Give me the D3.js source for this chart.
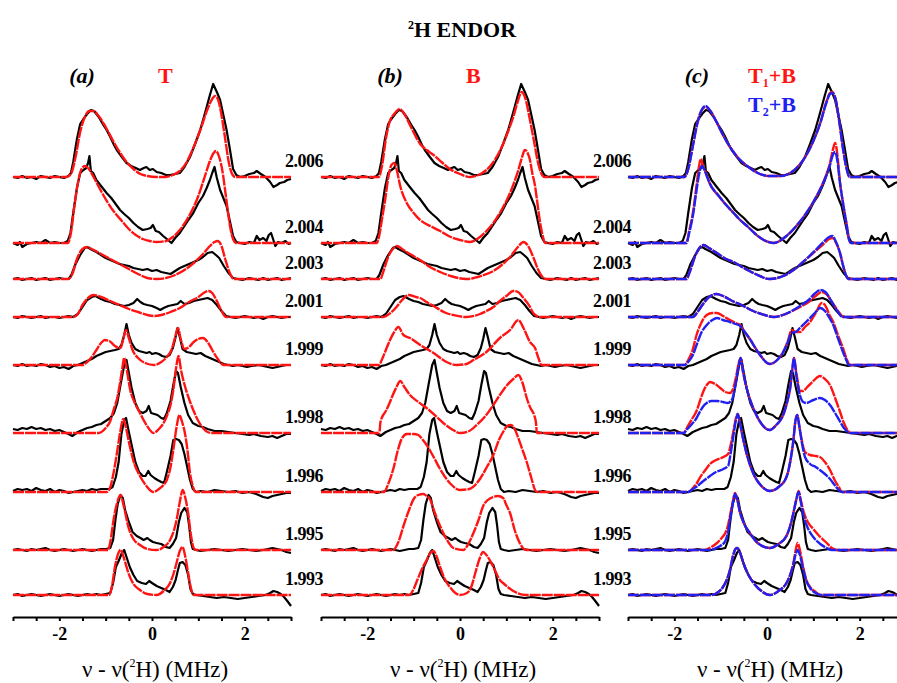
<!DOCTYPE html>
<html><head><meta charset="utf-8">
<script src="https://cdn.jsdelivr.net/npm/d3@7/dist/d3.min.js"></script>
<style>body{margin:0;background:#fff}svg{display:block}</style>
</head><body><svg id="chart" width="897" height="683"></svg>
<script>
// ---------- data ----------
const gValues = ["2.006","2.004","2.003","2.001","1.999","1.998","1.996","1.995","1.993"];
const stackOffsets = [440,374,338,300,252,184,125,67,22];
const xTickValues = [-3,-2.5,-2,-1.5,-1,-0.5,0,0.5,1,1.5,2,2.5,3];
const xTickLabels = {"-2":"-2","0":"0","2":"2"};
const panelNames = ["(a)","(b)","(c)"];

// experimental spectra (MHz, intensity)
const exp2006 = [[-3,0],[-2.9,-1],[-2.8,1],[-2.7,-1],[-2.6,0],[-2.5,-2],[-2.4,1],[-2.3,0],[-2.2,-1],[-2.1,1],[-2,0],[-1.9,-1],[-1.8,1],[-1.75,4],[-1.7,15],[-1.62,38],[-1.55,53],[-1.48,58],[-1.4,63],[-1.32,67],[-1.25,66],[-1.15,60],[-1.05,52],[-0.98,47],[-0.9,40],[-0.82,32],[-0.76,27],[-0.65,20],[-0.55,14],[-0.45,11],[-0.35,9],[-0.26,7],[-0.18,9],[-0.12,10],[-0.05,7],[0.02,8],[0.1,5],[0.2,4],[0.3,2],[0.39,2],[0.5,3],[0.6,4],[0.7,10],[0.82,20],[0.93,33],[1.04,47],[1.12,60],[1.18,70],[1.25,82],[1.32,93],[1.4,85],[1.47,77],[1.54,62],[1.61,47],[1.68,28],[1.75,8],[1.82,2],[1.9,0],[2,1],[2.1,3],[2.2,4],[2.26,6],[2.35,3],[2.45,0],[2.55,-5],[2.62,-10],[2.7,-8],[2.76,-6],[2.85,-5],[2.92,-3],[3,-2]];
const exp2004 = [[-3,0],[-2.9,-2],[-2.85,1],[-2.8,-4],[-2.7,-1],[-2.6,0],[-2.5,1],[-2.4,0],[-2.3,3],[-2.2,0],[-2.1,1],[-2,0],[-1.9,0],[-1.82,2],[-1.76,10],[-1.7,30],[-1.62,55],[-1.55,70],[-1.48,73],[-1.42,75],[-1.38,80],[-1.35,87],[-1.32,72],[-1.27,70],[-1.2,63],[-1.1,57],[-0.98,50],[-0.88,45],[-0.8,40],[-0.69,33],[-0.6,29],[-0.5,25],[-0.4,20],[-0.3,16],[-0.2,13],[-0.1,14],[-0.03,15],[0.02,18],[0.08,12],[0.15,11],[0.24,7],[0.32,4],[0.42,0],[0.5,5],[0.6,10],[0.7,17],[0.8,24],[0.89,30],[1,40],[1.1,47],[1.18,55],[1.25,63],[1.3,70],[1.35,76],[1.4,65],[1.47,53],[1.54,45],[1.61,37],[1.68,22],[1.75,7],[1.82,1],[1.9,0],[2,-1],[2.1,1],[2.2,0],[2.26,7],[2.32,3],[2.4,5],[2.47,2],[2.52,8],[2.57,10],[2.62,3],[2.66,-3],[2.72,1],[2.8,0],[2.88,2],[2.95,-1],[3,0]];
const exp2003 = [[-3,0],[-2.9,1],[-2.8,-1],[-2.7,0],[-2.6,1],[-2.5,-1],[-2.4,0],[-2.3,1],[-2.2,-1],[-2.1,0],[-2,1],[-1.9,0],[-1.8,0],[-1.74,4],[-1.65,15],[-1.55,24],[-1.45,31],[-1.4,32],[-1.33,30],[-1.2,27],[-1.1,24],[-1,21],[-0.9,19],[-0.8,17],[-0.7,15],[-0.6,14],[-0.5,13],[-0.4,11],[-0.3,10],[-0.2,9],[-0.1,10],[0,8],[0.1,9],[0.2,7],[0.3,6],[0.4,5],[0.5,8],[0.6,11],[0.7,13],[0.8,15],[0.9,17],[1,19],[1.1,22],[1.2,26],[1.3,27],[1.38,24],[1.45,21],[1.55,13],[1.65,6],[1.75,1],[1.85,0],[1.95,-1],[2.1,1],[2.2,0],[2.3,-1],[2.4,1],[2.5,-1],[2.6,0],[2.7,1],[2.8,-1],[2.9,0],[3,1]];
const exp2001 = [[-3,0],[-2.9,-1],[-2.8,1],[-2.7,0],[-2.6,-1],[-2.5,0],[-2.4,1],[-2.3,-1],[-2.2,0],[-2.1,0],[-2,-1],[-1.9,0],[-1.8,1],[-1.7,0],[-1.6,3],[-1.5,10],[-1.4,17],[-1.3,20],[-1.22,21],[-1.1,18],[-1,16],[-0.9,15],[-0.8,13],[-0.7,12],[-0.6,11],[-0.5,12],[-0.4,14],[-0.32,18],[-0.25,15],[-0.18,13],[-0.1,12],[0,11],[0.1,9],[0.18,7],[0.25,9],[0.35,11],[0.45,12],[0.55,13],[0.62,16],[0.7,13],[0.8,14],[0.9,16],[1,17],[1.1,18],[1.2,19],[1.3,17],[1.4,12],[1.5,6],[1.6,1],[1.7,0],[1.8,-1],[1.9,0],[2,1],[2.1,0],[2.2,-1],[2.3,0],[2.4,-2],[2.5,0],[2.6,1],[2.7,0],[2.8,-1],[2.9,0],[3,0]];
const exp1999 = [[-3,0],[-2.9,-1],[-2.8,1],[-2.7,-1],[-2.6,0],[-2.5,-1],[-2.4,1],[-2.3,0],[-2.2,-2],[-2.1,-1],[-2,-3],[-1.9,-2],[-1.8,-4],[-1.7,-1],[-1.6,0],[-1.5,2],[-1.4,4],[-1.3,6],[-1.2,9],[-1.1,11],[-1,13],[-0.9,14],[-0.8,15],[-0.72,16],[-0.66,20],[-0.6,30],[-0.55,41],[-0.5,30],[-0.44,22],[-0.36,16],[-0.28,14],[-0.2,13],[-0.12,12],[-0.05,13],[0,11],[0.08,12],[0.15,11],[0.22,9],[0.3,8],[0.38,10],[0.45,17],[0.5,26],[0.55,37],[0.6,28],[0.66,16],[0.75,13],[0.85,12],[0.95,11],[1.05,12],[1.15,9],[1.25,7],[1.35,5],[1.45,3],[1.55,1],[1.65,0],[1.75,-1],[1.85,0],[1.95,-1],[2.05,-2],[2.15,-1],[2.3,0],[2.4,-1],[2.5,-2],[2.6,-3],[2.7,-2],[2.8,-1],[2.9,0],[3,0]];
const exp1998 = [[-3,4],[-2.9,3],[-2.8,5],[-2.7,4],[-2.6,6],[-2.5,4],[-2.4,5],[-2.3,3],[-2.2,4],[-2.1,2],[-2,3],[-1.9,1],[-1.8,-1],[-1.72,-3],[-1.6,1],[-1.5,3],[-1.4,5],[-1.3,6],[-1.2,8],[-1.1,9],[-1,12],[-0.9,15],[-0.82,20],[-0.75,30],[-0.68,48],[-0.6,68],[-0.55,73],[-0.5,60],[-0.44,45],[-0.36,30],[-0.28,22],[-0.2,20],[-0.12,22],[-0.07,27],[-0.02,20],[0.05,19],[0.12,18],[0.2,15],[0.26,14],[0.32,20],[0.4,32],[0.46,48],[0.52,62],[0.56,60],[0.62,46],[0.7,30],[0.78,18],[0.88,10],[1,7],[1.1,6],[1.2,4],[1.35,2],[1.5,2],[1.65,1],[1.8,0],[1.95,-1],[2.1,-2],[2.2,-1],[2.35,-3],[2.5,-4],[2.6,-3],[2.7,-5],[2.8,-3],[2.9,-1],[3,-1]];
const exp1996 = [[-3,1],[-2.9,3],[-2.8,2],[-2.7,3],[-2.6,1],[-2.5,4],[-2.4,2],[-2.3,1],[-2.2,3],[-2.1,0],[-2,2],[-1.9,1],[-1.8,-1],[-1.7,0],[-1.6,1],[-1.5,2],[-1.4,1],[-1.3,3],[-1.2,2],[-1.1,3],[-1,3],[-0.92,3],[-0.85,5],[-0.78,15],[-0.72,30],[-0.66,58],[-0.6,72],[-0.56,74],[-0.5,60],[-0.43,45],[-0.36,30],[-0.28,20],[-0.2,16],[-0.14,16],[-0.08,21],[-0.03,17],[0.05,14],[0.12,12],[0.2,10],[0.26,9],[0.32,20],[0.4,36],[0.46,52],[0.52,53],[0.58,52],[0.64,48],[0.7,38],[0.76,25],[0.82,12],[0.88,3],[0.95,0],[1.05,1],[1.2,0],[1.35,2],[1.5,1],[1.65,0],[1.8,1],[1.95,-1],[2.1,0],[2.25,-2],[2.4,-5],[2.5,-6],[2.6,-4],[2.7,-3],[2.8,-2],[2.9,-1],[3,-1]];
const exp1995 = [[-3,0],[-2.9,1],[-2.8,0],[-2.7,-1],[-2.6,1],[-2.5,0],[-2.4,1],[-2.3,2],[-2.2,0],[-2.1,-1],[-2,0],[-1.9,1],[-1.8,0],[-1.7,-1],[-1.6,0],[-1.5,1],[-1.4,0],[-1.3,-1],[-1.2,0],[-1.1,1],[-1,1],[-0.9,2],[-0.84,10],[-0.79,30],[-0.74,46],[-0.68,55],[-0.63,52],[-0.58,40],[-0.5,28],[-0.42,18],[-0.33,14],[-0.25,12],[-0.18,10],[-0.1,12],[-0.05,10],[0.02,8],[0.1,7],[0.2,6],[0.3,3],[0.38,2],[0.45,6],[0.52,12],[0.58,28],[0.63,37],[0.7,42],[0.76,38],[0.8,25],[0.84,8],[0.88,1],[0.95,0],[1.05,-1],[1.2,0],[1.35,1],[1.5,0],[1.65,-1],[1.8,0],[1.95,1],[2.1,0],[2.25,-1],[2.4,0],[2.5,1],[2.6,2],[2.7,1],[2.8,0],[2.9,-2],[3,-3]];
const exp1993 = [[-3,0],[-2.9,1],[-2.8,-1],[-2.7,0],[-2.6,1],[-2.5,0],[-2.4,-1],[-2.3,0],[-2.2,1],[-2.1,0],[-2,-1],[-1.9,0],[-1.8,1],[-1.7,0],[-1.6,-1],[-1.5,0],[-1.4,1],[-1.3,0],[-1.2,1],[-1.1,0],[-1,1],[-0.9,2],[-0.84,12],[-0.78,28],[-0.72,34],[-0.65,42],[-0.6,45],[-0.55,38],[-0.48,28],[-0.4,20],[-0.32,14],[-0.22,12],[-0.13,11],[-0.06,14],[0,12],[0.1,9],[0.2,7],[0.3,5],[0.38,3],[0.45,8],[0.51,15],[0.56,25],[0.6,32],[0.66,33],[0.72,30],[0.78,20],[0.83,6],[0.88,1],[0.95,0],[1.1,-1],[1.25,-2],[1.4,-3],[1.55,-2],[1.7,-3],[1.85,-4],[2,-3],[2.15,-2],[2.3,-1],[2.45,0],[2.55,2],[2.62,4],[2.7,3],[2.78,1],[2.85,-2],[2.92,-6],[3,-11]];

// simulation T (panel a, red)
const simT2006 = [[-3,0],[-1.85,0],[-1.75,3],[-1.65,20],[-1.55,45],[-1.45,60],[-1.35,66],[-1.27,66],[-1.15,61],[-1,50],[-0.85,37],[-0.7,25],[-0.55,15],[-0.4,8],[-0.25,3],[-0.1,1],[0.1,0],[0.3,0],[0.45,2],[0.6,6],[0.75,15],[0.9,30],[1.05,48],[1.2,68],[1.3,78],[1.36,81],[1.42,78],[1.5,62],[1.58,38],[1.66,14],[1.74,2],[1.8,0],[3,0]];
const simT2004 = [[-3,0],[-1.82,0],[-1.75,10],[-1.68,35],[-1.6,60],[-1.52,74],[-1.45,77],[-1.38,75],[-1.25,65],[-1.1,52],[-0.95,40],[-0.8,30],[-0.65,22],[-0.5,14],[-0.35,8],[-0.2,4],[-0.05,2],[0.1,1],[0.3,2],[0.45,6],[0.6,13],[0.8,27],[1,47],[1.15,68],[1.25,82],[1.33,90],[1.38,92],[1.45,86],[1.52,72],[1.6,45],[1.68,18],[1.75,4],[1.82,0],[3,0]];
const simT2003 = [[-3,0],[-1.8,0],[-1.72,5],[-1.62,20],[-1.5,30],[-1.4,32],[-1.3,30],[-1.1,25],[-0.9,20],[-0.7,15],[-0.5,10],[-0.3,5],[-0.1,1],[0.1,0],[0.3,1],[0.5,4],[0.7,9],[0.9,16],[1.1,25],[1.25,33],[1.35,37],[1.42,38],[1.5,33],[1.58,20],[1.68,6],[1.76,0],[3,0]];
const simT2001 = [[-3,0],[-1.7,0],[-1.6,3],[-1.5,12],[-1.38,19],[-1.26,22],[-1.1,20],[-0.9,16],[-0.7,12],[-0.5,8],[-0.3,5],[-0.1,2],[0.05,1],[0.2,2],[0.4,5],[0.6,9],[0.8,15],[1,20],[1.15,25],[1.22,26],[1.3,24],[1.4,16],[1.5,6],[1.6,0],[3,0]];
const simT1999 = [[-3,0],[-1.5,0],[-1.4,3],[-1.3,8],[-1.2,15],[-1.1,22],[-1.02,25],[-0.92,24],[-0.8,19],[-0.68,17],[-0.62,26],[-0.56,35],[-0.5,27],[-0.42,15],[-0.3,7],[-0.15,2],[0.05,0],[0.2,3],[0.32,8],[0.42,15],[0.5,28],[0.56,37],[0.62,26],[0.7,16],[0.8,18],[0.9,23],[1,26],[1.1,27],[1.2,23],[1.3,15],[1.42,6],[1.55,0],[3,0]];
const simT1998 = [[-3,0],[-1.15,0],[-1,5],[-0.9,12],[-0.83,23],[-0.75,35],[-0.69,50],[-0.64,65],[-0.6,75],[-0.55,65],[-0.47,43],[-0.37,30],[-0.26,20],[-0.12,8],[0.03,0],[0.15,4],[0.25,10],[0.32,17],[0.4,28],[0.46,43],[0.52,65],[0.57,77],[0.63,62],[0.71,47],[0.8,34],[0.89,23],[1,12],[1.1,5],[1.2,1],[1.3,0],[3,0]];
const simT1996 = [[-3,0],[-0.98,0],[-0.9,5],[-0.83,19],[-0.76,38],[-0.69,59],[-0.62,73],[-0.56,64],[-0.48,46],[-0.38,28],[-0.26,16],[-0.12,6],[0.03,0],[0.15,3],[0.25,7],[0.32,12],[0.4,25],[0.46,42],[0.53,65],[0.59,77],[0.65,70],[0.71,59],[0.77,40],[0.82,19],[0.88,6],[0.95,0],[3,0]];
const simT1995 = [[-3,0],[-0.95,0],[-0.9,8],[-0.83,30],[-0.76,46],[-0.68,55],[-0.6,42],[-0.51,23],[-0.4,11],[-0.26,5],[-0.1,1],[0.1,0],[0.25,3],[0.39,10],[0.47,19],[0.53,30],[0.6,48],[0.66,60],[0.72,52],[0.78,37],[0.84,15],[0.9,2],[0.95,0],[3,0]];
const simT1993 = [[-3,0],[-0.92,0],[-0.86,10],[-0.8,28],[-0.74,40],[-0.68,45],[-0.6,36],[-0.51,22],[-0.4,11],[-0.26,5],[-0.1,1],[0.1,0],[0.25,4],[0.39,12],[0.47,22],[0.53,32],[0.6,44],[0.66,48],[0.72,38],[0.78,22],[0.84,7],[0.9,0],[3,0]];

// simulation B (panel b, red)
const simB2006 = [[-3,0],[-1.75,0],[-1.68,12],[-1.6,38],[-1.52,55],[-1.42,63],[-1.3,68],[-1.2,63],[-1.08,52],[-0.95,40],[-0.86,33],[-0.72,27],[-0.57,22],[-0.4,15],[-0.22,8],[0,3],[0.22,0],[0.4,2],[0.57,7],[0.75,17],[0.93,33],[1.05,47],[1.15,60],[1.25,76],[1.33,85],[1.4,80],[1.51,57],[1.6,35],[1.69,13],[1.76,3],[1.82,0],[3,0]];
const simB2004 = [[-3,0],[-1.8,0],[-1.74,8],[-1.68,25],[-1.61,45],[-1.55,65],[-1.48,78],[-1.42,80],[-1.36,72],[-1.29,57],[-1.15,40],[-1,30],[-0.86,23],[-0.6,16],[-0.43,12],[-0.2,6],[0,3],[0.22,1],[0.4,5],[0.57,12],[0.72,20],[0.86,30],[1,42],[1.08,50],[1.18,62],[1.26,73],[1.34,86],[1.4,93],[1.46,90],[1.51,83],[1.56,70],[1.62,57],[1.67,40],[1.72,23],[1.78,8],[1.84,0],[3,0]];
const simB2003 = [[-3,0],[-1.72,0],[-1.65,8],[-1.55,22],[-1.45,30],[-1.36,33],[-1.25,30],[-1.08,25],[-0.86,19],[-0.65,12],[-0.43,7],[-0.2,3],[0.14,0],[0.45,3],[0.72,8],[0.9,14],[1.08,22],[1.25,32],[1.37,37],[1.47,33],[1.58,22],[1.68,10],[1.78,2],[1.85,0],[3,0]];
const simB2001 = [[-3,0],[-1.65,0],[-1.5,4],[-1.37,10],[-1.25,17],[-1.11,22],[-0.95,20],[-0.86,19],[-0.72,15],[-0.57,11],[-0.3,4],[-0.14,2],[0.14,0],[0.43,3],[0.57,6],[0.72,10],[0.86,16],[1,21],[1.15,26],[1.25,25],[1.37,19],[1.5,11],[1.58,4],[1.72,0],[3,0]];
const simB1999 = [[-3,0],[-1.75,0],[-1.68,6],[-1.6,15],[-1.51,25],[-1.42,33],[-1.33,38],[-1.22,30],[-1.08,27],[-0.86,20],[-0.57,12],[-0.29,3],[-0.07,0],[0.14,1],[0.29,5],[0.57,13],[0.86,27],[1.08,35],[1.26,45],[1.37,37],[1.51,23],[1.62,17],[1.7,6],[1.76,0],[3,0]];
const simB1998 = [[-3,0],[-1.74,0],[-1.72,10],[-1.68,16],[-1.6,22],[-1.52,30],[-1.45,38],[-1.37,46],[-1.29,52],[-1.2,46],[-1.08,38],[-0.9,31],[-0.72,25],[-0.5,16],[-0.36,10],[-0.15,3],[0,0],[0.2,2],[0.36,8],[0.55,17],[0.72,28],[0.86,38],[1,47],[1.15,54],[1.26,58],[1.35,50],[1.44,35],[1.52,25],[1.6,18],[1.64,10],[1.66,0],[3,0]];
const simB1996 = [[-3,0],[-1.64,0],[-1.55,8],[-1.44,23],[-1.34,42],[-1.26,53],[-1.15,58],[-1,58],[-0.9,57],[-0.8,52],[-0.72,47],[-0.57,35],[-0.43,23],[-0.2,8],[0,2],[0.2,3],[0.43,13],[0.58,25],[0.72,37],[0.84,52],[0.93,60],[1.02,66],[1.1,67],[1.18,63],[1.25,55],[1.35,42],[1.44,30],[1.54,14],[1.62,2],[1.66,0],[3,0]];
const simB1995 = [[-3,0],[-1.44,0],[-1.33,8],[-1.22,24],[-1.1,40],[-1,51],[-0.9,55],[-0.79,56],[-0.72,54],[-0.65,51],[-0.55,38],[-0.43,24],[-0.28,10],[-0.14,2],[0.07,0],[0.18,6],[0.29,17],[0.4,30],[0.5,44],[0.6,50],[0.72,53],[0.82,54],[0.93,52],[1,45],[1.08,37],[1.18,20],[1.29,7],[1.38,1],[1.44,0],[3,0]];
const simB1993 = [[-3,0],[-1.1,0],[-1,6],[-0.93,14],[-0.82,26],[-0.72,35],[-0.64,42],[-0.57,44],[-0.5,38],[-0.43,28],[-0.33,16],[-0.22,8],[-0.1,2],[0,0],[0.15,2],[0.25,9],[0.33,22],[0.42,36],[0.5,43],[0.57,40],[0.72,28],[0.86,15],[0.93,12],[1.15,4],[1.43,0],[3,0]];

// simulation T1+B (panel c, red)
const simT1B2006 = [[-3,0],[-1.78,0],[-1.7,8],[-1.6,32],[-1.5,55],[-1.42,66],[-1.33,70],[-1.22,66],[-1.1,56],[-0.95,42],[-0.8,30],[-0.6,18],[-0.4,10],[-0.2,4],[0.05,1],[0.3,1],[0.5,4],[0.7,12],[0.85,22],[1,36],[1.15,54],[1.28,75],[1.36,84],[1.41,85],[1.48,78],[1.56,55],[1.64,28],[1.72,8],[1.78,0],[3,0]];
const simT1B2004 = [[-3,0],[-1.74,0],[-1.68,12],[-1.59,33],[-1.52,58],[-1.47,76],[-1.43,84],[-1.38,77],[-1.3,68],[-1.24,60],[-1.04,47],[-0.88,38],[-0.72,30],[-0.58,23],[-0.43,17],[-0.25,9],[-0.07,3],[0.14,0],[0.42,7],[0.65,18],[0.85,30],[1,41],[1.14,53],[1.26,66],[1.36,80],[1.42,93],[1.47,100],[1.52,88],[1.57,63],[1.64,40],[1.72,18],[1.78,2],[1.82,0],[3,0]];
const simT1B2003 = [[-3,0],[-1.74,0],[-1.66,8],[-1.56,22],[-1.46,31],[-1.37,34],[-1.25,31],[-1.05,25],[-0.88,20],[-0.72,17],[-0.5,11],[-0.25,5],[0.06,0],[0.35,3],[0.6,10],[0.85,20],[1.05,28],[1.22,35],[1.34,40],[1.41,41],[1.48,37],[1.57,27],[1.65,12],[1.72,2],[1.76,0],[3,0]];
const simT1B2001 = [[-3,0],[-1.6,0],[-1.5,5],[-1.38,13],[-1.25,20],[-1.09,23],[-0.95,21],[-0.75,16],[-0.55,12],[-0.3,6],[-0.05,2],[0.14,0],[0.4,3],[0.71,10],[0.9,15],[1.05,21],[1.18,25],[1.28,23],[1.43,13],[1.55,5],[1.65,0],[3,0]];
const simT1B1999 = [[-3,0],[-1.78,0],[-1.7,5],[-1.6,16],[-1.52,30],[-1.42,42],[-1.3,50],[-1.18,52],[-1.08,52],[-0.95,49],[-0.8,45],[-0.68,42],[-0.58,40],[-0.48,33],[-0.37,26],[-0.25,17],[-0.15,10],[0.06,1],[0.22,5],[0.35,13],[0.45,24],[0.53,35],[0.62,33],[0.71,33],[0.82,38],[0.93,43],[1.05,52],[1.18,62],[1.25,60],[1.35,50],[1.43,43],[1.53,30],[1.64,17],[1.72,6],[1.79,0],[3,0]];
const simT1B1998 = [[-3,0],[-1.8,0],[-1.72,6],[-1.62,14],[-1.52,22],[-1.44,33],[-1.37,42],[-1.3,48],[-1.23,51],[-1.12,49],[-1.01,45],[-0.9,41],[-0.8,40],[-0.72,46],[-0.66,58],[-0.61,70],[-0.57,75],[-0.52,62],[-0.44,45],[-0.34,30],[-0.23,18],[-0.1,8],[0.06,3],[0.2,8],[0.35,18],[0.44,32],[0.5,45],[0.55,65],[0.58,75],[0.64,58],[0.71,42],[0.78,42],[0.85,45],[1,52],[1.14,57],[1.25,54],[1.36,48],[1.47,35],[1.57,22],[1.66,10],[1.75,2],[1.8,0],[3,0]];
const simT1B1996 = [[-3,0],[-1.7,0],[-1.6,4],[-1.5,10],[-1.44,15],[-1.33,22],[-1.23,28],[-1.1,32],[-0.94,35],[-0.84,38],[-0.78,48],[-0.72,62],[-0.67,74],[-0.63,78],[-0.58,68],[-0.51,52],[-0.42,35],[-0.29,18],[-0.12,6],[0.06,1],[0.25,5],[0.42,15],[0.5,30],[0.57,52],[0.61,70],[0.65,77],[0.7,65],[0.75,52],[0.82,40],[0.93,37],[1.05,36],[1.14,35],[1.25,30],[1.36,22],[1.46,12],[1.55,5],[1.62,0],[3,0]];
const simT1B1995 = [[-3,0],[-1.35,0],[-1.2,3],[-1.08,7],[-0.98,12],[-0.9,17],[-0.84,25],[-0.8,34],[-0.74,48],[-0.69,57],[-0.64,50],[-0.58,37],[-0.48,25],[-0.37,17],[-0.2,7],[0.06,2],[0.25,6],[0.42,14],[0.5,24],[0.57,37],[0.63,50],[0.68,59],[0.73,50],[0.78,40],[0.88,28],[1,21],[1.15,13],[1.29,7],[1.4,2],[1.5,0],[3,0]];
const simT1B1993 = [[-3,0],[-1.2,0],[-1.05,3],[-0.95,8],[-0.87,15],[-0.8,25],[-0.74,38],[-0.68,46],[-0.64,47],[-0.58,42],[-0.51,32],[-0.4,20],[-0.29,12],[-0.12,4],[0.06,0],[0.25,4],[0.42,12],[0.5,20],[0.57,32],[0.62,45],[0.66,52],[0.71,45],[0.78,28],[0.85,15],[0.93,8],[1.05,3],[1.15,0],[3,0]];

// simulation T2+B (panel c, blue)
const simT2B2006 = [[-3,0],[-1.78,0],[-1.7,8],[-1.6,31],[-1.5,54],[-1.42,66],[-1.33,71],[-1.22,66],[-1.1,56],[-0.95,42],[-0.8,30],[-0.6,18],[-0.4,10],[-0.2,4],[0.05,1],[0.3,1],[0.5,4],[0.7,12],[0.85,22],[1,36],[1.15,54],[1.28,74],[1.36,83],[1.41,84],[1.48,78],[1.56,56],[1.64,29],[1.72,8],[1.78,0],[3,0]];
const simT2B2004 = [[-3,0],[-1.74,0],[-1.68,10],[-1.59,30],[-1.52,53],[-1.46,70],[-1.41,77],[-1.36,74],[-1.3,67],[-1.24,60],[-1.04,47],[-0.88,38],[-0.72,30],[-0.58,23],[-0.43,17],[-0.25,9],[-0.07,3],[0.14,0],[0.42,7],[0.65,18],[0.85,30],[1,41],[1.14,53],[1.26,65],[1.36,78],[1.42,88],[1.47,91],[1.52,82],[1.57,62],[1.64,40],[1.72,18],[1.78,2],[1.82,0],[3,0]];
const simT2B2003 = [[-3,0],[-1.74,0],[-1.66,8],[-1.56,22],[-1.46,31],[-1.37,34],[-1.25,31],[-1.05,25],[-0.88,20],[-0.72,17],[-0.5,11],[-0.25,5],[0.06,0],[0.35,3],[0.6,10],[0.85,20],[1.05,29],[1.22,37],[1.34,42],[1.41,43],[1.48,38],[1.57,27],[1.65,12],[1.72,2],[1.76,0],[3,0]];
const simT2B2001 = [[-3,0],[-1.6,0],[-1.5,5],[-1.38,13],[-1.25,20],[-1.09,23],[-0.95,21],[-0.75,16],[-0.55,12],[-0.3,6],[-0.05,2],[0.14,0],[0.4,3],[0.71,11],[0.9,17],[1.02,23],[1.15,27],[1.26,25],[1.4,15],[1.52,6],[1.63,0],[3,0]];
const simT2B1999 = [[-3,0],[-1.78,0],[-1.7,3],[-1.6,10],[-1.52,20],[-1.42,32],[-1.3,40],[-1.18,45],[-1.08,47],[-0.95,45],[-0.8,43],[-0.68,41],[-0.58,39],[-0.48,33],[-0.37,26],[-0.25,17],[-0.15,10],[0.06,1],[0.22,5],[0.35,13],[0.45,23],[0.53,32],[0.62,33],[0.71,37],[0.82,42],[0.93,47],[1.05,53],[1.15,57],[1.25,54],[1.35,47],[1.43,40],[1.53,27],[1.64,13],[1.72,4],[1.76,0],[3,0]];
const simT2B1998 = [[-3,0],[-1.8,0],[-1.72,4],[-1.62,9],[-1.52,15],[-1.44,22],[-1.37,27],[-1.3,30],[-1.2,32],[-1.08,32],[-0.95,31],[-0.85,30],[-0.76,33],[-0.68,48],[-0.62,65],[-0.57,75],[-0.52,62],[-0.44,45],[-0.34,30],[-0.23,18],[-0.1,8],[0.06,3],[0.2,8],[0.35,18],[0.44,32],[0.5,45],[0.55,65],[0.58,75],[0.64,55],[0.71,38],[0.78,31],[0.85,30],[1,33],[1.14,35],[1.25,33],[1.36,28],[1.47,20],[1.57,12],[1.66,5],[1.75,1],[1.8,0],[3,0]];
const simT2B1996 = [[-3,0],[-1.7,0],[-1.6,3],[-1.5,6],[-1.4,10],[-1.23,16],[-1.1,20],[-0.94,23],[-0.84,26],[-0.78,40],[-0.72,58],[-0.67,72],[-0.63,78],[-0.58,68],[-0.51,52],[-0.42,35],[-0.29,18],[-0.12,6],[0.06,1],[0.25,5],[0.42,15],[0.5,30],[0.57,52],[0.61,70],[0.65,77],[0.7,65],[0.75,50],[0.82,35],[0.93,28],[1.05,25],[1.14,22],[1.25,18],[1.36,13],[1.46,7],[1.55,2],[1.62,0],[3,0]];
const simT2B1995 = [[-3,0],[-1.25,0],[-1.1,2],[-0.98,5],[-0.9,9],[-0.84,18],[-0.8,30],[-0.74,46],[-0.69,56],[-0.64,50],[-0.58,37],[-0.48,25],[-0.37,17],[-0.2,7],[0.06,2],[0.25,6],[0.42,14],[0.5,24],[0.57,37],[0.63,50],[0.68,58],[0.73,48],[0.78,36],[0.88,22],[1,13],[1.15,6],[1.29,2],[1.4,0],[3,0]];
const simT2B1993 = [[-3,0],[-1.2,0],[-1.05,3],[-0.95,8],[-0.87,15],[-0.8,25],[-0.74,38],[-0.68,46],[-0.64,47],[-0.58,42],[-0.51,32],[-0.4,20],[-0.29,12],[-0.12,4],[0.06,0],[0.25,4],[0.42,12],[0.5,20],[0.57,31],[0.62,41],[0.66,45],[0.71,40],[0.78,26],[0.85,14],[0.93,7],[1.05,2],[1.15,0],[3,0]];

const expSpectra = [exp2006,exp2004,exp2003,exp2001,exp1999,exp1998,exp1996,exp1995,exp1993];
const simT = [simT2006,simT2004,simT2003,simT2001,simT1999,simT1998,simT1996,simT1995,simT1993];
const simB = [simB2006,simB2004,simB2003,simB2001,simB1999,simB1998,simB1996,simB1995,simB1993];
const simT1B = [simT1B2006,simT1B2004,simT1B2003,simT1B2001,simT1B1999,simT1B1998,simT1B1996,simT1B1995,simT1B1993];
const simT2B = [simT2B2006,simT2B2004,simT2B2003,simT2B2001,simT2B1999,simT2B1998,simT2B1996,simT2B1995,simT2B1993];

// ---------- drawing ----------
const svg = d3.select("#chart");
const RED = "#ff1414", BLUE = "#2020f0";
const serif = "Liberation Serif, Times New Roman, DejaVu Serif, serif";
const y = d3.scaleLinear().domain([0, 600]).range([617, 17]);
const centers = [152, 460, 767];
const halfW = 139;

const panels = [
  {sims: [{data: simT, color: RED}], legend: [{t: "T", color: RED}]},
  {sims: [{data: simB, color: RED}], legend: [{t: "B", color: RED}]},
  {sims: [{data: simT1B, color: RED}, {data: simT2B, color: BLUE}], legend: [{t: "T", sub: "1", rest: "+B", color: RED}, {t: "T", sub: "2", rest: "+B", color: BLUE}]}
];

// title
const title = svg.append("text").attr("x", 462).attr("y", 37).attr("text-anchor", "middle")
  .attr("font-family", serif).attr("font-weight", "bold").attr("font-size", 22);
title.append("tspan").attr("font-size", 12).attr("dy", -8).text("2");
title.append("tspan").attr("dy", 8).text("H ENDOR");

panels.forEach((p, pi) => {
  const cx = centers[pi];
  const x = d3.scaleLinear().domain([-3, 3]).range([cx - halfW, cx + halfW]);
  const g = svg.append("g");

  const lineExp = d3.line().x(d => x(d[0])).curve(d3.curveLinear);
  const lineSim = d3.line().x(d => x(d[0])).curve(d3.curveMonotoneX);

  expSpectra.forEach((s, i) => {
    g.append("path").datum(s)
      .attr("d", lineExp.y(d => y(stackOffsets[i] + d[1])))
      .attr("fill", "none").attr("stroke", "#000").attr("stroke-width", 2.2)
      .attr("stroke-linejoin", "round");
  });
  p.sims.forEach(sim => {
    sim.data.forEach((s, i) => {
      g.append("path").datum(s)
        .attr("d", lineSim.y(d => y(stackOffsets[i] + d[1])))
        .attr("fill", "none").attr("stroke", sim.color).attr("stroke-width", 2.4)
        .attr("stroke-dasharray", "11,1");
    });
  });

  // axis
  const ax = g.append("g").attr("transform", "translate(0,617)")
    .call(d3.axisBottom(x).tickValues(xTickValues).tickSize(4).tickSizeOuter(0).tickPadding(6)
      .tickFormat(v => xTickLabels[String(v)] || ""));
  ax.select(".domain").attr("stroke-width", 2);
  ax.selectAll(".tick line").attr("stroke-width", 2);
  ax.selectAll(".tick text").attr("font-family", serif).attr("font-weight", "bold")
    .attr("font-size", 18).attr("fill", "#000");

  // axis title
  const at = g.append("text").attr("x", cx + 3).attr("y", 677).attr("text-anchor", "middle")
    .attr("font-family", serif).attr("font-size", 23);
  at.append("tspan").text("\u03bd - \u03bd(");
  at.append("tspan").attr("font-size", 12).attr("dy", -10).text("2");
  at.append("tspan").attr("dy", 10).text("H) (MHz)");

  // panel label
  g.append("text").attr("x", cx - 70).attr("y", 83).attr("text-anchor", "middle")
    .attr("font-family", serif).attr("font-weight", "bold").attr("font-style", "italic")
    .attr("font-size", 22).text(panelNames[pi]);

  // legend
  p.legend.forEach((l, li) => {
    const t = g.append("text").attr("x", l.sub ? cx - 19 : cx + 6).attr("y", 83 + li * 29)
      .attr("text-anchor", "start").attr("font-family", serif).attr("font-weight", "bold")
      .attr("font-size", 22).attr("fill", l.color);
    t.append("tspan").text(l.t);
    if (l.sub) {
      t.append("tspan").attr("font-size", 12).attr("dy", 4).text(l.sub);
      t.append("tspan").attr("dy", -4).text(l.rest);
    }
  });

  // g-value labels to the right of panels a and b
  if (pi < 2) {
    gValues.forEach((gv, i) => {
      g.append("text").attr("x", cx + 133).attr("y", y(stackOffsets[i]) - 10)
        .attr("font-family", serif).attr("font-weight", "bold").attr("font-size", 18)
        .attr("letter-spacing", -0.5).text(gv);
    });
  }
});
</script></body></html>
